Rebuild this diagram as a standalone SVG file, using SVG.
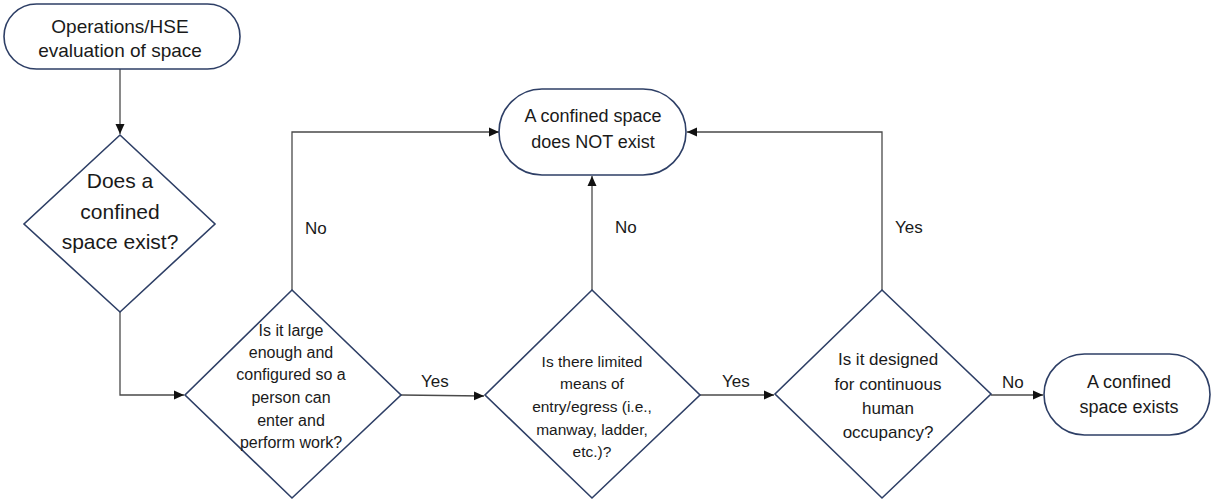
<svg xmlns="http://www.w3.org/2000/svg" width="1212" height="500" viewBox="0 0 1212 500">
<style>
.shape{fill:#fff;stroke:#2e3f66;stroke-width:1.6}
.conn{fill:none;stroke:#4a4a4a;stroke-width:1.3}
text{font-family:"Liberation Sans",Arial,sans-serif;fill:#1a1a1a;text-anchor:middle}
.lbl{font-size:17px;text-anchor:start}
</style>
<defs>
<marker id="ah" viewBox="0 0 10 10" refX="10" refY="5" markerWidth="10" markerHeight="10" markerUnits="userSpaceOnUse" orient="auto">
<path d="M0,0.5 L10,5 L0,9.5 z" fill="#111"/>
</marker>
</defs>
<rect width="1212" height="500" fill="#fff"/>
<g id="connectors">
<path class="conn" d="M120,69 V134" marker-end="url(#ah)"/>
<path class="conn" d="M120,312 V395 H184" marker-end="url(#ah)"/>
<path class="conn" d="M292,290 V132 H499" marker-end="url(#ah)"/>
<path class="conn" d="M401,395 L484,396" marker-end="url(#ah)"/>
<path class="conn" d="M592,290 V176" marker-end="url(#ah)"/>
<path class="conn" d="M700,395 H774" marker-end="url(#ah)"/>
<path class="conn" d="M882,290 V132 H687" marker-end="url(#ah)"/>
<path class="conn" d="M991,395 H1043" marker-end="url(#ah)"/>
<text class="lbl" x="305" y="234">No</text>
<text class="lbl" x="421" y="387">Yes</text>
<text class="lbl" x="615" y="233">No</text>
<text class="lbl" x="722" y="387">Yes</text>
<text class="lbl" x="895" y="233">Yes</text>
<text class="lbl" x="1002" y="388">No</text>
</g>
<g id="start">
<rect class="shape" x="4" y="4" width="236" height="65" rx="32.5"/>
<text x="120" y="33" font-size="19">Operations/HSE</text>
<text x="120" y="57" font-size="19">evaluation of space</text>
</g>
<g id="q1">
<polygon class="shape" points="120,135 215,224 120,312 24,224"/>
<text x="120" y="188" font-size="21">Does a</text>
<text x="120" y="219" font-size="21">confined</text>
<text x="120" y="249" font-size="21">space exist?</text>
</g>
<g id="q2">
<polygon class="shape" points="292,290 401,395 292,498 185,395"/>
<text x="291" y="336" font-size="16">Is it large</text>
<text x="291" y="358" font-size="16">enough and</text>
<text x="291" y="380" font-size="16">configured so a</text>
<text x="291" y="403" font-size="16">person can</text>
<text x="291" y="426" font-size="16">enter and</text>
<text x="291" y="448" font-size="16">perform work?</text>
</g>
<g id="notexist">
<rect class="shape" x="499" y="89" width="187" height="86" rx="43"/>
<text x="593" y="122" font-size="18">A confined space</text>
<text x="593" y="148" font-size="18">does NOT exist</text>
</g>
<g id="q3">
<polygon class="shape" points="592,290 700,395 592,498 485,395"/>
<text x="592" y="367" font-size="15.5">Is there limited</text>
<text x="592" y="389" font-size="15.5">means of</text>
<text x="592" y="412" font-size="15.5">entry/egress (i.e.,</text>
<text x="592" y="435" font-size="15.5">manway, ladder,</text>
<text x="592" y="457" font-size="15.5">etc.)?</text>
</g>
<g id="q4">
<polygon class="shape" points="882,290 991,394 882,498 775,394"/>
<text x="888" y="365" font-size="17">Is it designed</text>
<text x="888" y="390" font-size="17">for continuous</text>
<text x="888" y="414" font-size="17">human</text>
<text x="888" y="438" font-size="17">occupancy?</text>
</g>
<g id="exists">
<rect class="shape" x="1044" y="354" width="166" height="81" rx="40.5"/>
<text x="1129" y="388" font-size="18">A confined</text>
<text x="1129" y="413" font-size="18">space exists</text>
</g>
</svg>
